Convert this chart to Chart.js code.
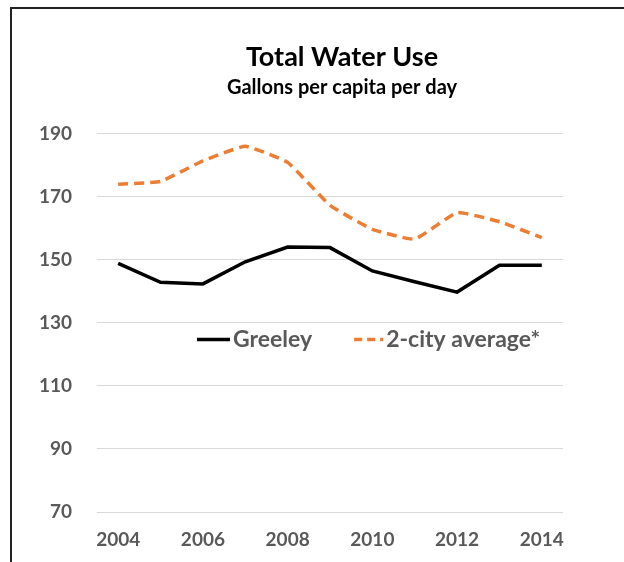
<!DOCTYPE html>
<html>
<head>
<meta charset="utf-8">
<title>Total Water Use</title>
<script src="https://cdn.jsdelivr.net/npm/chart.js@4.4.1/dist/chart.umd.min.js"></script>
<style>
    html, body { margin: 0; padding: 0; background: #fff; overflow: hidden; }
    #frame {
        position: absolute; left: 10px; top: 7px; width: 700px; height: 700px;
        border-left: 2px solid #222; border-top: 2px solid #222;
    }
    #wrap { position: absolute; left: 0; top: 0; width: 624px; height: 562px; }
</style>
</head>
<body>
<div id="frame"></div>
<div id="wrap"><canvas id="line1" width="624" height="562"></canvas></div>
<script>
// values (gallons per capita per day)
const years = ['2004', '2005', '2006', '2007', '2008', '2009', '2010', '2011', '2012', '2013', '2014'];
const greeley = [148.8, 142.8, 142.3, 149.3, 154.0, 153.8, 146.4, 143.0, 139.7, 148.2, 148.2];
const twoCity = [173.9, 174.8, 181.3, 185.9, 180.8, 167.2, 159.6, 156.5, 164.9, 162.0, 157.0];
const yTicks = [70, 90, 110, 130, 150, 170, 190];

const FONT = 'Lato';
const GREY = '#595959';

// legend sits inside the plot area, like the Excel one
const insideLegend = {
    id: 'insideLegend',
    afterLayout(chart) {
        // Excel centres the titles a bit right of the plot centre
        const c = (chart.chartArea.left + chart.chartArea.right) / 2 + 12;
        chart.boxes.forEach((box) => {
            if (box.options && box.options.text !== undefined && box.isHorizontal()) {
                const w = box.right - box.left;
                box.left = c - w / 2;
                box.right = c + w / 2;
            }
        });
    },
    afterDatasetsDraw(chart) {
        const ctx = chart.ctx;
        const area = chart.chartArea;
        let x = area.left + 100;
        const y = area.top + 206;
        ctx.save();
        ctx.font = 'bold 23px ' + FONT;
        ctx.textBaseline = 'middle';
        ctx.fillStyle = GREY;
        chart.data.datasets.forEach((ds, i) => {
            if (i > 0) x += 42;
            const sample = ds.borderDash ? 29 : 33;
            ctx.strokeStyle = ds.borderColor;
            ctx.lineWidth = ds.borderWidth;
            ctx.setLineDash(ds.borderDash ? [8, 5] : []);
            ctx.beginPath();
            ctx.moveTo(x, y);
            ctx.lineTo(x + sample, y);
            ctx.stroke();
            ctx.setLineDash([]);
            x += sample + 3;
            ctx.fillText(ds.label, x, y);
            x += ctx.measureText(ds.label).width;
        });
        ctx.restore();
    }
};

const line1 = document.getElementById("line1").getContext("2d");
const myChart1 = new Chart(line1, {
    type: "line",
    data: {
        labels: years,
        datasets: [
            {
                label: 'Greeley',
                data: greeley,
                borderColor: '#000000',
                borderWidth: 3.5,
                pointRadius: 0,
                tension: 0,
            },
            {
                label: '2-city average*',
                data: twoCity,
                borderColor: '#ED7D31',
                borderWidth: 3.5,
                borderDash: [10, 6],
                pointRadius: 0,
                tension: 0.12,
            },
        ],
    },
    options: {
        responsive: false,
        animation: false,
        layout: {
            padding: { left: 38, right: 61, top: 0, bottom: 0 },
        },
        plugins: {
            legend: { display: false },
            tooltip: { enabled: false },
            title: {
                display: true,
                text: 'Total Water Use',
                color: '#000000',
                font: { family: FONT, size: 27, weight: 'bold' },
                padding: { top: 41, bottom: 2 },
            },
            subtitle: {
                display: true,
                text: 'Gallons per capita per day',
                color: '#000000',
                font: { family: FONT, size: 20, weight: 'bold' },
                padding: { top: 0, bottom: 34 },
            },
        },
        scales: {
            x: {
                offset: true,
                grid: { display: false },
                border: { display: false },
                ticks: {
                    color: GREY,
                    font: { family: FONT, size: 19, weight: 'bold' },
                    autoSkip: false,
                    maxRotation: 0,
                    padding: 8,
                    callback: (v, i) => (i % 2 === 0 ? years[i] : ''),
                },
                afterFit: (scale) => { scale.height = 50; },
            },
            y: {
                min: 70,
                max: 190,
                afterBuildTicks: (scale) => {
                    scale.ticks = yTicks.map((v) => ({ value: v }));
                },
                grid: { color: '#d9d9d9', lineWidth: 1, drawTicks: false },
                border: { display: false },
                ticks: {
                    color: GREY,
                    font: { family: FONT, size: 19, weight: 'bold' },
                    padding: 25,
                },
                afterFit: (scale) => { scale.width = 59; },
            },
        },
    },
    plugins: [insideLegend],
});
</script>
</body>
</html>
